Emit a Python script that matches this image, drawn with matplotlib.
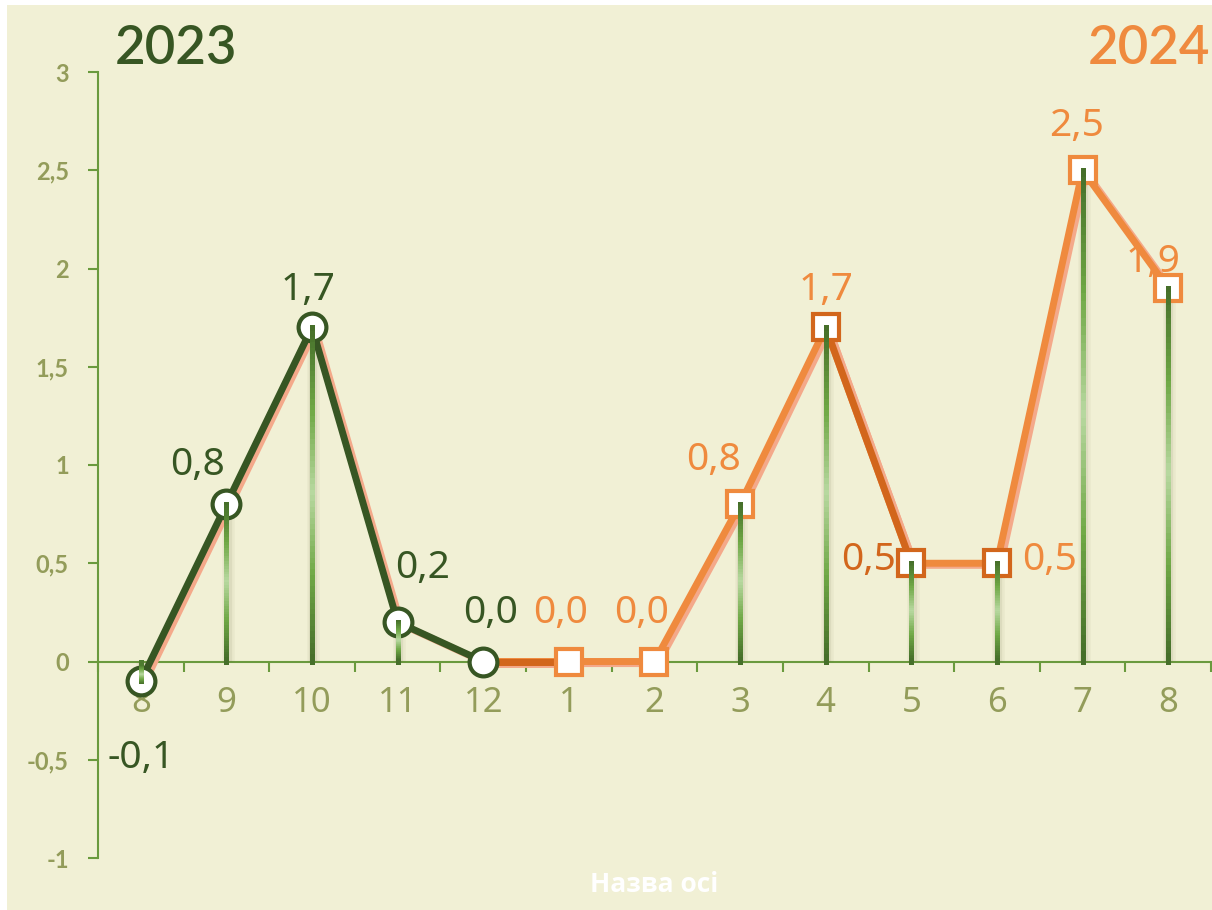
import numpy as np
import matplotlib
matplotlib.use("Agg")
import matplotlib.pyplot as plt
import matplotlib.patheffects as pe
from matplotlib.collections import LineCollection
from matplotlib.colors import LinearSegmentedColormap
from matplotlib.patches import Rectangle
from matplotlib.ticker import FuncFormatter

# data
months = ['8', '9', '10', '11', '12', '1', '2', '3', '4', '5', '6', '7', '8']
vals_2023 = [-0.1, 0.8, 1.7, 0.2, 0.0, None, None, None, None, None, None, None, None]
vals_2024 = [None, None, None, None, 0.0, 0.0, 0.0, 0.8, 1.7, 0.5, 0.5, 2.5, 1.9]

# colours
BG = '#F1F0D5'
GREEN = '#375623'
ORANGE = '#EF8A3E'
DARK_ORANGE = '#D2661C'
SHADOW = '#F4A98A'
OLIVE = '#939C5A'
AXIS = '#6A9A3E'
LABEL_FONT = ['Noto Sans', 'DejaVu Sans']

x = np.arange(len(months))
y23 = np.array([np.nan if v is None else v for v in vals_2023])
y24 = np.array([np.nan if v is None else v for v in vals_2024])

fig = plt.figure(figsize=(12.12, 9.10), dpi=100, facecolor='white')
fig.patches.append(Rectangle((7 / 1212, 0), 1, 905 / 910, transform=fig.transFigure,
                             facecolor=BG, edgecolor='none', zorder=-10))
ax = fig.add_axes([98 / 1212, 52 / 910, 1113 / 1212, 786 / 910])
ax.set_facecolor('none')
ax.set_xlim(-0.5, len(months) - 0.5)
ax.set_ylim(-1, 3)

shadow = [pe.SimpleLineShadow(offset=(2.5, -1.5), shadow_color=SHADOW, alpha=1.0, rho=1.0), pe.Normal()]

# drop lines with a green gradient
cmap = LinearSegmentedColormap.from_list(
    'drop', ['#466F2A', '#6FA845', '#B8D8A0', '#6FA845', '#466F2A'])
yall = np.where(np.isnan(y23), y24, y23)
for xi, yi in zip(x, yall):
    ys = np.linspace(yi, 0, 60)
    segs = [[(xi, ys[k]), (xi, ys[k + 1])] for k in range(len(ys) - 1)]
    for w, a in ((9, 0.06), (6, 0.10)):
        ax.plot([xi + 0.015, xi + 0.015], [yi, 0], color='#6E6E45', alpha=a, lw=w, zorder=3,
                solid_capstyle='butt')
    lc = LineCollection(segs, colors=cmap(np.linspace(0, 1, len(segs))), linewidths=2.4,
                        capstyle='projecting', antialiased=False, zorder=6)
    ax.add_collection(lc)

# 2024 line
ax.plot(x, y24, color=ORANGE, lw=5, zorder=4, path_effects=shadow, solid_capstyle='round')
for i0 in (4, 8):
    ax.plot(x[i0:i0 + 2], y24[i0:i0 + 2], color=DARK_ORANGE, lw=5, zorder=4,
            path_effects=shadow, solid_capstyle='round')
edge24 = [ORANGE, ORANGE, ORANGE, DARK_ORANGE, DARK_ORANGE, DARK_ORANGE, ORANGE, ORANGE]
for i, ec in zip(range(5, 13), edge24):
    ax.plot(x[i], y24[i], marker='s', ms=19, mfc='white', mec=ec, mew=3, zorder=5)

# 2023 line
ax.plot(x, y23, color=GREEN, lw=5, zorder=4, path_effects=shadow, solid_capstyle='round')
ax.plot(x, y23, 'o', ms=20, mfc='white', mec=GREEN, mew=3, zorder=5)

# data labels (under the lines, as in the original)
lab_font = dict(fontsize=28, family=LABEL_FONT, ha='center', va='center', zorder=3.5)
off23 = [(0, -55), (-21, 28), (-3, 27), (18, 39), (5, 35)]
for i, (dx, dy) in enumerate(off23):
    ax.annotate(f'{y23[i]:.1f}'.replace('.', ','), (x[i], y23[i]), xytext=(dx, dy),
                textcoords='offset points', color=GREEN, **lab_font)
off24 = {5: (-6, 35), 6: (-9, 35), 7: (-19, 32), 8: (0, 27), 9: (-31, 2),
         10: (38, 2), 11: (-4, 32), 12: (-11, 19)}
for i, (dx, dy) in off24.items():
    col = DARK_ORANGE if i == 9 else ORANGE
    ax.annotate(f'{y24[i]:.1f}'.replace('.', ','), (x[i], y24[i]), xytext=(dx, dy),
                textcoords='offset points', color=col, **lab_font)

# axes
for s in ('top', 'right'):
    ax.spines[s].set_visible(False)
ax.spines['bottom'].set_position(('data', 0))
ax.spines['bottom'].set_color(AXIS)
ax.spines['left'].set_color(AXIS)
ax.spines['bottom'].set_linewidth(1.5)
ax.spines['left'].set_linewidth(1.5)

ax.set_xticks(x)
ax.set_xticklabels(months, fontsize=25, color=OLIVE, family=LABEL_FONT)
ax.set_xticks(np.arange(-0.5, len(months)), minor=True)
ax.tick_params(axis='x', which='major', length=0, pad=18)
ax.tick_params(axis='x', which='minor', length=7, width=1.5, color=AXIS, direction='out')

ax.set_yticks(np.arange(-1, 3.01, 0.5))
ax.yaxis.set_major_formatter(FuncFormatter(lambda v, p: f'{v:g}'.replace('.', ',')))
ax.tick_params(axis='y', length=7, width=1.5, color=AXIS, pad=14, labelsize=17, labelcolor=OLIVE)
for t in ax.get_yticklabels():
    t.set_fontweight('bold')
    t.set_family('Lato')

ax.text(0.5, -0.034, 'Назва осі', transform=ax.transAxes, ha='center', va='center',
        color='white', fontsize=19, fontweight='bold', family=['Open Sans', 'DejaVu Sans'])

fig.text(115 / 1212, 1 - 48 / 910, '2023', color=GREEN, fontsize=38, family='Lato',
         fontweight='semibold', ha='left', va='center')
fig.text(1210 / 1212, 1 - 48 / 910, '2024', color=ORANGE, fontsize=38, family='Lato',
         fontweight='semibold', ha='right', va='center')

fig.savefig('out.png', dpi=100, facecolor='white')
